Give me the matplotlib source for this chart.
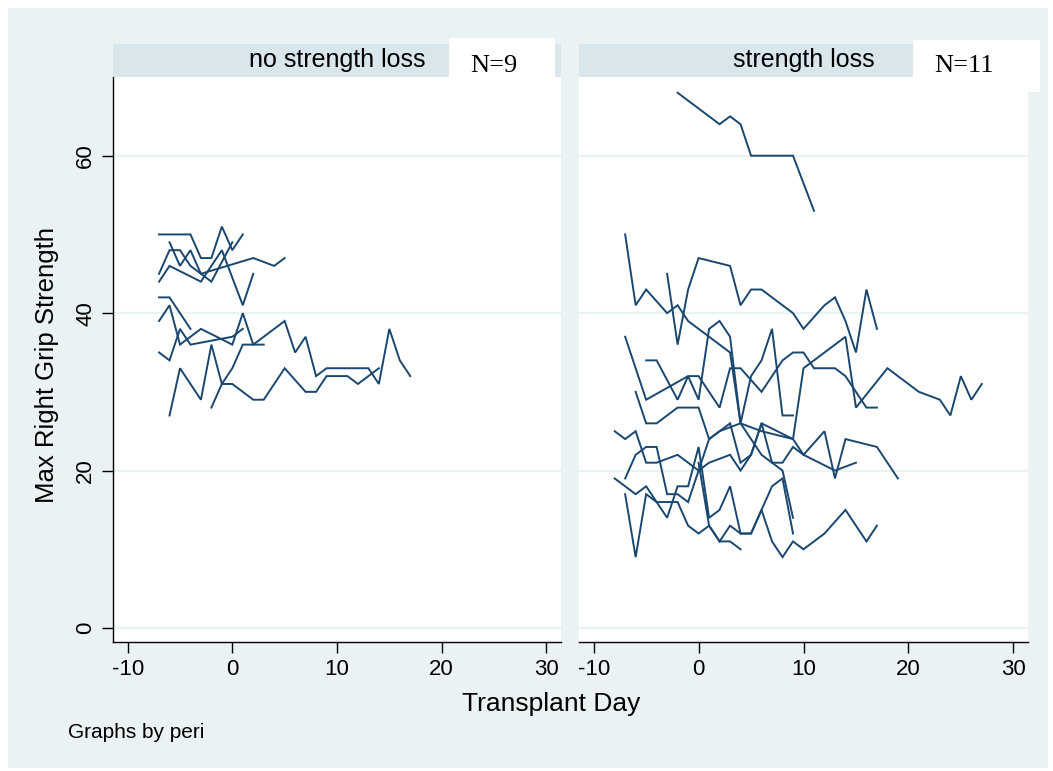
import numpy as np
import matplotlib
matplotlib.use("Agg")
from matplotlib import pyplot as plt
from matplotlib.patches import Rectangle

# no strength loss group (9 subjects)
nsl_days = [
    [-7, -4, -3, -2, -1, 0, 1],
    [-6, -5, -4, -3, -2, 0],
    [-7, -6, -5, -4, -3, 2, 4, 5],
    [-7, -6, -3, -1, 1, 2],
    [-7, -6, -4],
    [-7, -6, -5, -3, 0, 1, 2, 3],
    [-7, -6, -5, -4, 0, 1],
    [-2, -1, 0, 1, 2, 5, 6, 7, 8, 9, 13, 14, 15, 16, 17],
    [-6, -5, -3, -2, -1, 0, 2, 3, 5, 7, 8, 9, 11, 12, 14],
]
nsl_grip = [
    [50, 50, 47, 47, 51, 48, 50],
    [49, 46, 48, 45, 44, 49],
    [45, 48, 48, 46, 45, 47, 46, 47],
    [44, 46, 44, 48, 41, 45],
    [42, 42, 38],
    [39, 41, 36, 38, 36, 40, 36, 36],
    [35, 34, 38, 36, 37, 38],
    [28, 31, 33, 36, 36, 39, 35, 37, 32, 33, 33, 31, 38, 34, 32],
    [27, 33, 29, 36, 31, 31, 29, 29, 33, 30, 30, 32, 32, 31, 33],
]

# strength loss group (11 subjects)
sl_days = [
    [-2, 2, 3, 4, 5, 9, 11],
    [-7, -6, -5, -3, -2, -1, 3, 4, 6, 9, 10, 14, 15, 18, 21, 23, 24, 25, 26, 27],
    [-3, -2, -1, 0, 3, 4, 5, 6, 9, 10, 12, 13, 14, 15, 16, 17],
    [-7, -5, -1, 0, 2, 3, 4, 6, 8, 9, 10, 11, 13, 14, 16, 17],
    [-5, -4, -2, -1, 0, 1, 2, 3, 4, 5, 6, 7, 8, 9],
    [-8, -7, -6, -5, -4, -2, 0, 1, 3, 4, 5, 6, 7, 8, 9, 10, 12, 13, 14, 17, 19],
    [-6, -5, -4, -2, 0, 1, 3, 4, 5, 6, 9, 10, 13, 15],
    [-8, -6, -5, -3, -2, -1, 0, 1, 2, 3, 4, 5, 6, 7, 8, 9],
    [-7, -6, -5, -4, -3, -2, -1, 1, 2, 4, 6, 7, 8, 9],
    [-7, -6, -5, -4, -2, -1, 0, 1, 2, 3, 4],
    [0, 1, 2, 3, 4, 5, 6, 7, 8, 9, 10, 12, 14, 16, 17],
]
sl_grip = [
    [68, 64, 65, 64, 60, 60, 53],
    [50, 41, 43, 40, 41, 39, 35, 26, 25, 24, 33, 37, 28, 33, 30, 29, 27, 32, 29, 31],
    [45, 36, 43, 47, 46, 41, 43, 43, 40, 38, 41, 42, 39, 35, 43, 38],
    [37, 29, 32, 32, 28, 33, 33, 30, 34, 35, 35, 33, 33, 32, 28, 28],
    [34, 34, 29, 32, 29, 38, 39, 37, 26, 32, 34, 38, 27, 27],
    [25, 24, 25, 21, 21, 22, 20, 21, 22, 20, 22, 26, 21, 21, 23, 22, 25, 19, 24, 23, 19],
    [30, 26, 26, 28, 28, 24, 26, 21, 22, 26, 24, 22, 20, 21],
    [19, 17, 18, 14, 18, 18, 23, 14, 15, 18, 12, 12, 15, 18, 19, 12],
    [19, 22, 23, 23, 17, 17, 16, 24, 25, 26, 22, 21, 20, 14],
    [17, 9, 17, 16, 16, 13, 12, 13, 11, 11, 10],
    [21, 13, 11, 13, 12, 12, 15, 11, 9, 11, 10, 12, 15, 11, 13],
]

panel_titles = ["no strength loss", "strength loss"]
panel_counts = ["N=9", "N=11"]
x_ticks = [-10, 0, 10, 20, 30]
y_ticks = [0, 20, 40, 60]

W, H = 1053, 771
bg = "#eaf2f3"
strip = "#d9e6eb"
navy = "#1a476f"


def fig_box(x0, y0, x1, y1):
    # pixel box (top-left origin) -> figure fraction [l, b, w, h]
    return [x0 / W, 1 - y1 / H, (x1 - x0) / W, (y1 - y0) / H]


fig = plt.figure(figsize=(W / 100, H / 100), dpi=100)
fig.patch.set_facecolor("white")
l, b, w, h = fig_box(8, 8, 1048, 768)
fig.add_artist(Rectangle((l, b), w, h, transform=fig.transFigure,
                         facecolor=bg, edgecolor="none", zorder=0))

panels = [(113, 561, nsl_days, nsl_grip), (579, 1028, sl_days, sl_grip)]
count_boxes = [(449, 38, 555, 80), (913, 40, 1040, 92)]

for i, (x0, x1, days, grip) in enumerate(panels):
    ax = fig.add_axes(fig_box(x0, 77, x1, 642))
    ax.set_facecolor("white")
    for d, g in zip(days, grip):
        ax.plot(d, g, color=navy, lw=1.4, solid_joinstyle="miter")
    ax.set_xlim(-11.4, 31.4)
    ax.set_ylim(-1.78, 70)
    ax.set_xticks(x_ticks)
    ax.set_xticklabels([str(t) for t in x_ticks], fontsize=16, family="Liberation Sans")
    ax.set_yticks(y_ticks)
    ax.yaxis.grid(True, color=bg, lw=1.6)
    ax.set_axisbelow(True)
    for s in ["top", "right"]:
        ax.spines[s].set_visible(False)
    ax.spines["bottom"].set_linewidth(1.0)
    ax.tick_params(axis="x", length=8, width=1.0, pad=4)
    if i == 0:
        ax.spines["left"].set_linewidth(1.0)
        ax.tick_params(axis="y", length=8, width=1.0, pad=4)
        ax.set_yticklabels([str(t) for t in y_ticks], fontsize=16,
                           family="Liberation Sans", rotation=90, va="center")
    else:
        ax.spines["left"].set_visible(False)
        ax.tick_params(axis="y", left=False, labelleft=False)

    # strip header
    sl, sb, sw, sh = fig_box(x0, 44, x1, 77)
    fig.add_artist(Rectangle((sl, sb), sw, sh, transform=fig.transFigure,
                             facecolor=strip, edgecolor="none", zorder=1))
    fig.text((x0 + x1) / 2 / W, 1 - 60 / H, panel_titles[i], fontsize=18,
             family="Liberation Sans", ha="center", va="center", zorder=2)
    bx0, by0, bx1, by1 = count_boxes[i]
    cl, cb, cw, ch = fig_box(bx0, by0, bx1, by1)
    fig.add_artist(Rectangle((cl, cb), cw, ch, transform=fig.transFigure,
                             facecolor="white", edgecolor="none", zorder=3))
    fig.text((bx0 + 21) / W, 1 - 66 / H, panel_counts[i], fontsize=19,
             family="Liberation Serif", ha="left", va="center", zorder=4)

fig.text(47 / W, 1 - 365 / H, "Max Right Grip Strength", rotation=90,
         fontsize=18.5, family="Liberation Sans", ha="center", va="center")
fig.text(551 / W, 1 - 704 / H, "Transplant Day", fontsize=19,
         family="Liberation Sans", ha="center", va="center")
fig.text(68 / W, 1 - 733 / H, "Graphs by peri", fontsize=15,
         family="Liberation Sans", ha="left", va="center")

fig.savefig("out.png", dpi=100)
